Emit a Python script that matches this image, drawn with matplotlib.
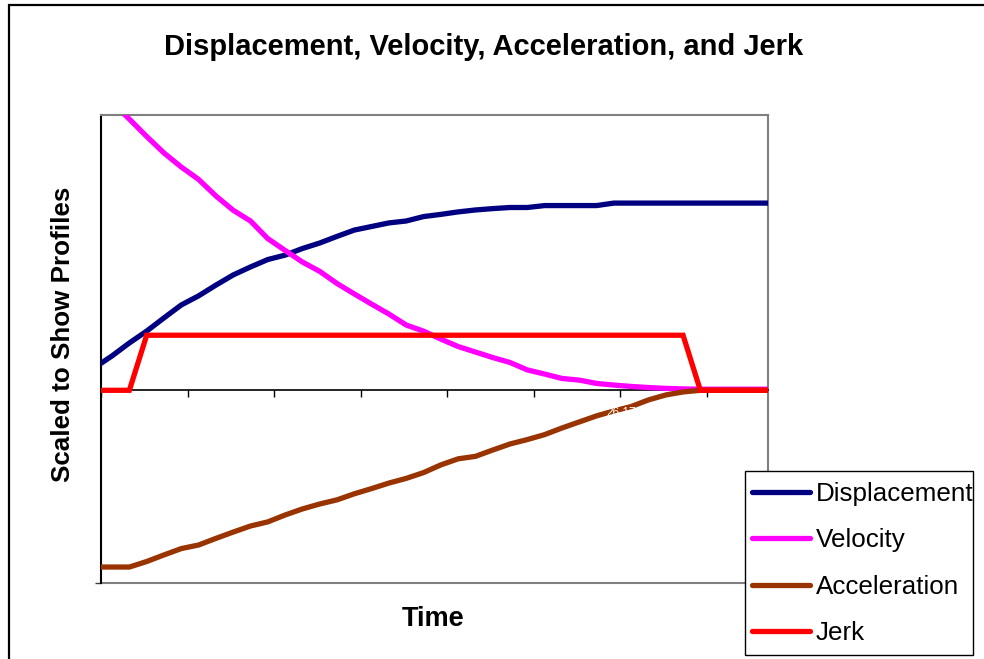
import numpy as np
import matplotlib
matplotlib.use("Agg")
import matplotlib.pyplot as plt
import matplotlib.patches as mpatches
from matplotlib.lines import Line2D

plt.rcParams["font.family"] = ["Liberation Sans", "DejaVu Sans"]

# ── Profile data (one value per time step, scaled to share one axis) ─────────
# step -1 lies just left of the plotted window so the curves enter at the edge
time_steps = np.arange(-1, 39)

displacement = [8.3, 12.5, 17.2, 21.5, 26.3, 31.0, 34.3, 38.2, 41.9, 44.8,
                47.5, 49.1, 51.5, 53.5, 55.9, 58.2, 59.5, 60.8, 61.5, 63.1,
                63.9, 64.8, 65.5, 66.0, 66.4, 66.4, 67.1, 67.1, 67.1, 67.1,
                68.0, 68.0, 68.0, 68.0, 68.0, 68.0, 68.0, 68.0, 68.0, 68.0]

velocity = [110.9, 104.7, 98.5, 92.2, 86.2, 81.1, 76.6, 70.6, 65.4, 61.5,
            55.1, 50.8, 46.6, 43.2, 38.8, 35.0, 31.3, 27.7, 23.7, 21.5,
            18.6, 15.9, 13.9, 11.9, 10.1, 7.4, 5.9, 4.3, 3.7, 2.5,
            1.9, 1.4, 1.0, 0.7, 0.5, 0.4, 0.4, 0.4, 0.4, 0.4]

acceleration = [-64.2, -64.2, -64.2, -62.2, -59.8, -57.5, -56.2, -53.8, -51.5, -49.3,
                -47.8, -45.3, -43.1, -41.3, -39.8, -37.6, -35.7, -33.7, -32.0, -29.9,
                -27.1, -24.9, -24.0, -21.7, -19.5, -17.9, -16.1, -13.7, -11.5, -9.3,
                -7.5, -5.9, -3.5, -1.7, -0.6, 0.0, 0.0, 0.0, 0.0, 0.0]

jerk = [0, 0, 0] + [20] * 32 + [0] * 5

series_names = ["Displacement", "Velocity", "Acceleration", "Jerk"]
series_colors = ["#000080", "#FF00FF", "#993300", "#FF0000"]

# stray data label left on the acceleration trace
label_text = "26.17"
label_pos = (29.4, -8.2)

X_MIN, X_MAX = -0.64, 37.91
Y_MIN, Y_MAX = -70, 100


def main():
    fig = plt.figure(figsize=(9.84, 6.59), dpi=100)
    ax = fig.add_axes([101 / 984, 1 - 583 / 659, 667 / 984, 468 / 659])

    for values, color in zip([displacement, velocity, acceleration, jerk], series_colors):
        ax.plot(time_steps, values, color=color, linewidth=3.8, zorder=3,
                solid_joinstyle="miter")

    ax.text(*label_pos, label_text, color="white", fontsize=8.5,
            ha="center", va="center", zorder=4)

    ax.set_xlim(X_MIN, X_MAX)
    ax.set_ylim(Y_MIN, Y_MAX)

    # category axis sits on the zero line, ticks every 5 steps
    ax.spines["bottom"].set_position(("data", 0))
    ax.spines["bottom"].set_color("black")
    ax.spines["bottom"].set_linewidth(1.2)
    ax.set_xticks(np.arange(X_MIN, X_MAX, 5))
    ax.tick_params(axis="x", direction="out", length=5, width=1.0,
                   color="black", labelbottom=False)

    ax.spines["left"].set_color("black")
    ax.spines["left"].set_linewidth(1.5)
    ax.set_yticks([Y_MIN])
    ax.tick_params(axis="y", direction="out", length=4, width=1.0,
                   color="#404040", labelleft=False)

    for side in ["top", "right"]:
        ax.spines[side].set_color("#808080")
        ax.spines[side].set_linewidth(1.5)
    # plot-area bottom edge
    ax.plot([0, 1], [0, 0], transform=ax.transAxes, color="#808080",
            linewidth=1.5, clip_on=False, zorder=2)

    fig.text(484 / 984, 1 - 47 / 659, "Displacement, Velocity, Acceleration, and Jerk",
             fontsize=21, fontweight="bold", ha="center", va="center")
    fig.text(63 / 984, 1 - 334 / 659, "Scaled to Show Profiles", fontsize=18.7,
             fontweight="bold", rotation=90, ha="center", va="center")
    fig.text(433 / 984, 1 - 619 / 659, "Time", fontsize=19.5,
             fontweight="bold", ha="center", va="center")

    # legend box drawn separately so its size can be set exactly
    box = mpatches.Rectangle((745 / 984, 1 - 655 / 659), 228 / 984, 184 / 659,
                             transform=fig.transFigure, facecolor="white",
                             edgecolor="black", linewidth=1.0, zorder=4)
    fig.add_artist(box)

    handles = [Line2D([], [], color=c, linewidth=3.8, solid_capstyle="round")
               for c in series_colors]
    leg = fig.legend(handles, series_names, loc="upper left",
                     bbox_to_anchor=(752 / 984, 1 - 482 / 659),
                     fontsize=18.7, frameon=False, borderaxespad=0,
                     borderpad=0, handlelength=2.25, handletextpad=0.2,
                     labelspacing=0.86)
    leg.set_zorder(5)

    # outer chart-area border
    border = mpatches.Rectangle((9 / 984, -0.5), 1.5, 0.5 + 1 - 5 / 659,
                                transform=fig.transFigure, fill=False,
                                edgecolor="black", linewidth=1.6)
    fig.add_artist(border)

    fig.savefig("out.png", dpi=100)
    plt.close(fig)


if __name__ == "__main__":
    main()
